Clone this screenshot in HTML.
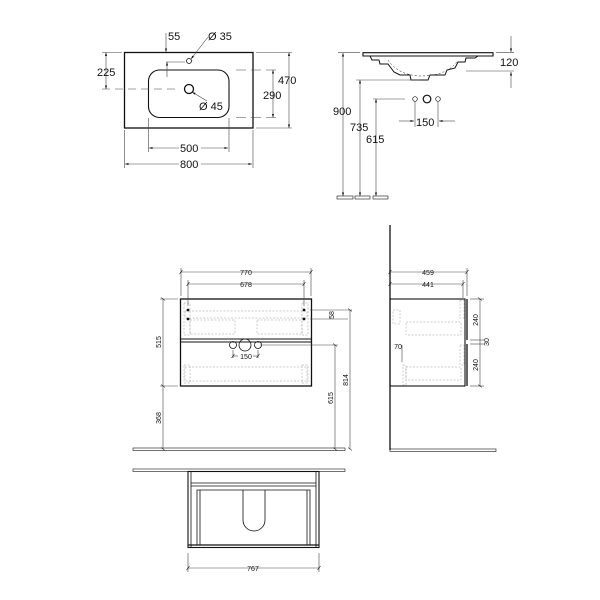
<!DOCTYPE html>
<html><head><meta charset="utf-8"><style>
html,body{margin:0;padding:0;background:#fff;width:600px;height:600px;overflow:hidden}
svg{display:block}
text{font-family:"Liberation Sans",Arial,sans-serif;fill:#111}
</style></head><body>
<svg width="600" height="600" viewBox="0 0 600 600" xmlns="http://www.w3.org/2000/svg">
<defs>
<marker id="a" viewBox="0 0 10 10" refX="10" refY="5" markerWidth="6" markerHeight="6" orient="auto-start-reverse"><path d="M0,2 L10,5 L0,8z" fill="#111"/></marker>
<marker id="t" viewBox="0 0 10 10" refX="5" refY="5" markerWidth="8" markerHeight="8" orient="auto"><path d="M2,9 L8,1" stroke="#111" stroke-width="1.2"/></marker>
</defs>
<g stroke="#111" fill="none" stroke-width="0.8">
<!-- TOP LEFT basin plan -->
<rect x="124.5" y="52.5" width="128.5" height="75.5" stroke-width="1.3"/>
<rect x="148.5" y="70" width="80.5" height="47.5" rx="11" stroke-width="1.1"/>
<circle cx="189" cy="89" r="4.5" stroke-width="1.3"/>
<circle cx="189" cy="61" r="2.5"/>
<g stroke="#444" stroke-width="0.6">
<line x1="102" y1="52.5" x2="122" y2="52.5"/><line x1="102" y1="89" x2="180" y2="89" stroke-dasharray="8,5"/>
<line x1="106" y1="52.5" x2="106" y2="89" marker-start="url(#a)" marker-end="url(#a)"/>
<line x1="256" y1="52.5" x2="292" y2="52.5"/><line x1="256" y1="128" x2="292" y2="128"/>
<line x1="289" y1="52.5" x2="289" y2="128" marker-start="url(#a)" marker-end="url(#a)"/>
<line x1="236" y1="70" x2="276" y2="70" stroke-dasharray="10,5"/><line x1="236" y1="117.5" x2="276" y2="117.5" stroke-dasharray="10,5"/>
<line x1="273" y1="70" x2="273" y2="117.5" marker-start="url(#a)" marker-end="url(#a)"/>
<line x1="148.5" y1="118" x2="148.5" y2="152"/><line x1="229" y1="118" x2="229" y2="152"/>
<line x1="149" y1="148" x2="179" y2="148" marker-start="url(#a)"/><line x1="201" y1="148" x2="228" y2="148" marker-end="url(#a)"/>
<line x1="124.5" y1="130" x2="124.5" y2="168"/><line x1="253" y1="130" x2="253" y2="168"/>
<line x1="125" y1="164" x2="179" y2="164" marker-start="url(#a)"/><line x1="201" y1="164" x2="252" y2="164" marker-end="url(#a)"/>
<line x1="166" y1="33" x2="166" y2="52" marker-end="url(#a)"/>
<line x1="166" y1="62" x2="185" y2="62"/><line x1="167" y1="62" x2="167" y2="77" marker-start="url(#a)"/>
<line x1="208" y1="37" x2="191" y2="59" marker-end="url(#a)"/>
<line x1="207" y1="101" x2="192" y2="92" marker-end="url(#a)"/>
</g>
<!-- TOP RIGHT side -->
<path d="M363,52.7 H493 V56 H363 Z" stroke-width="1.1"/>
<path d="M370,56 L372,60 L379,60 L380,64 L388,64 L394,72 L400,75 L410,75 L411,80 L428,80 L430,75 L445,75 L447,70 L455,68 L458,62 L465,62 L466,58 L475,58 L478,56" stroke-width="1"/>
<path d="M388,60 Q398,75 420,76 Q448,76 458,60" stroke-dasharray="2,2" stroke-width="0.5"/>
<g stroke="#444" stroke-width="0.6">
<line x1="338" y1="52.7" x2="360" y2="52.7"/><line x1="343" y1="53" x2="343" y2="196" marker-start="url(#a)" marker-end="url(#a)"/>
<line x1="356" y1="80" x2="420" y2="80"/><line x1="360" y1="80" x2="360" y2="196" marker-start="url(#a)" marker-end="url(#a)"/>
<line x1="373" y1="99" x2="405" y2="99"/><line x1="376" y1="99" x2="376" y2="196" marker-start="url(#a)" marker-end="url(#a)"/>
<line x1="496" y1="52.7" x2="514" y2="52.7"/><line x1="466" y1="71" x2="514" y2="71"/>
<line x1="511" y1="36" x2="511" y2="52" marker-end="url(#a)"/><line x1="511" y1="88" x2="511" y2="72" marker-end="url(#a)"/>
<line x1="415" y1="102" x2="415" y2="127"/><line x1="438" y1="102" x2="438" y2="127"/>
<line x1="399" y1="121" x2="414" y2="121" marker-end="url(#a)"/><line x1="455" y1="121" x2="439" y2="121" marker-end="url(#a)"/>
</g>
<circle cx="415" cy="99" r="2.3" stroke-width="0.7"/><circle cx="427" cy="99" r="3.8" stroke-width="1.2"/><circle cx="438" cy="99" r="2.3" stroke-width="0.7"/>
<rect x="337" y="196" width="16" height="3" stroke-width="0.6"/><rect x="355" y="196" width="15" height="3" stroke-width="0.6"/><rect x="373" y="196" width="15" height="3" stroke-width="0.6"/>

<!-- MIDDLE front -->
<rect x="180.5" y="299" width="131" height="87" stroke-width="1.3"/>
<line x1="180.5" y1="339" x2="311.5" y2="339" stroke-width="1"/><line x1="180.5" y1="342" x2="311.5" y2="342" stroke-width="1"/>
<g stroke="#999" stroke-width="0.5" stroke-dasharray="2,1.5">
<rect x="185" y="311" width="122" height="7"/><rect x="190" y="320" width="45" height="14"/><rect x="257" y="320" width="45" height="14"/>
<rect x="185" y="367" width="122" height="14"/><rect x="184" y="303" width="6" height="32"/><rect x="302" y="303" width="6" height="32"/>
<rect x="184" y="365" width="6" height="18"/><rect x="302" y="365" width="6" height="18"/>
</g>
<g fill="#111" stroke="none"><circle cx="188" cy="310" r="1.4"/><circle cx="188" cy="319" r="1.4"/><circle cx="304" cy="310" r="1.4"/><circle cx="304" cy="319" r="1.4"/></g>
<circle cx="233" cy="345" r="3.5"/><circle cx="245" cy="345" r="6"/><circle cx="258" cy="345" r="3.5"/>
<rect x="133" y="448" width="212" height="2.5" stroke-width="0.6"/>
<g stroke="#444" stroke-width="0.6">
<line x1="181" y1="268" x2="181" y2="296"/><line x1="311" y1="268" x2="311" y2="296"/><line x1="181" y1="272" x2="311" y2="272" marker-start="url(#t)" marker-end="url(#t)"/>
<line x1="188" y1="280" x2="188" y2="306"/><line x1="304" y1="280" x2="304" y2="306"/><line x1="188" y1="284" x2="304" y2="284" marker-start="url(#t)" marker-end="url(#t)"/>
<line x1="160" y1="299" x2="178" y2="299"/><line x1="160" y1="386" x2="178" y2="386"/><line x1="163" y1="299" x2="163" y2="386" marker-start="url(#t)" marker-end="url(#t)"/><line x1="163" y1="386" x2="163" y2="449" marker-end="url(#t)"/>
<line x1="310" y1="310" x2="352" y2="310"/><line x1="310" y1="319" x2="348" y2="319"/><line x1="260" y1="345" x2="338" y2="345"/>
<line x1="335" y1="345" x2="335" y2="449" marker-start="url(#t)" marker-end="url(#t)"/><line x1="350" y1="310" x2="350" y2="449" marker-start="url(#t)" marker-end="url(#t)"/>
<line x1="233" y1="350" x2="233" y2="358"/><line x1="258" y1="350" x2="258" y2="358"/>
<line x1="233" y1="356" x2="238" y2="356" marker-start="url(#t)"/><line x1="253" y1="356" x2="258" y2="356" marker-end="url(#t)"/>
</g>
<!-- side view -->
<line x1="390" y1="225" x2="390" y2="450" stroke-width="1.3"/>
<rect x="390" y="299" width="75" height="87" stroke-width="1.1"/>
<line x1="467" y1="299" x2="467" y2="340" stroke-width="1.3"/><line x1="467" y1="344" x2="467" y2="386" stroke-width="1.3"/>
<g stroke="#999" stroke-width="0.5" stroke-dasharray="2,1.5">
<rect x="393" y="310" width="7" height="14"/><rect x="406" y="322" width="55" height="13"/><rect x="406" y="367" width="55" height="13"/>
<rect x="460" y="300" width="4" height="18"/><rect x="460" y="345" width="4" height="20"/><rect x="403" y="365" width="3" height="20"/>
</g>
<rect x="390" y="449" width="106" height="2.5" stroke-width="0.6"/>
<g stroke="#444" stroke-width="0.6">
<line x1="390" y1="272" x2="467" y2="272" marker-start="url(#t)" marker-end="url(#t)"/><line x1="467" y1="268" x2="467" y2="296"/>
<line x1="390" y1="284" x2="463" y2="284" marker-start="url(#t)" marker-end="url(#t)"/><line x1="463" y1="280" x2="463" y2="298"/>
<line x1="470" y1="299" x2="484" y2="299"/><line x1="470" y1="386" x2="484" y2="386"/>
<line x1="480" y1="299" x2="480" y2="386" marker-start="url(#t)" marker-end="url(#t)"/><line x1="470" y1="340" x2="484" y2="340"/><line x1="470" y1="344" x2="484" y2="344"/>
<line x1="402" y1="345" x2="402" y2="362"/>
</g>
<!-- bottom plan -->
<rect x="133" y="469" width="212" height="2.5" stroke-width="0.6"/>
<rect x="188" y="471.5" width="131" height="76" stroke-width="1.1"/>
<line x1="191" y1="471.5" x2="191" y2="547"/><line x1="316" y1="471.5" x2="316" y2="547"/>
<line x1="191" y1="483" x2="316" y2="483"/><line x1="191" y1="486" x2="316" y2="486"/>
<path d="M197,545 V490 H310 V545" />
<line x1="200" y1="490" x2="200" y2="545"/><line x1="307" y1="490" x2="307" y2="545"/>
<path d="M243,490 V520 A11,11 0 0 0 265,520 V490"/>
<line x1="188" y1="545" x2="319" y2="545" stroke-width="1.3"/>
<g stroke="#444" stroke-width="0.6">
<line x1="188" y1="553" x2="188" y2="572"/><line x1="319" y1="553" x2="319" y2="572"/><line x1="188" y1="568" x2="319" y2="568" marker-start="url(#t)" marker-end="url(#t)"/>
</g>
</g>
<g font-size="11">
<text x="97" y="76">225</text><text x="278" y="84">470</text><text x="263" y="99">290</text>
<text x="180" y="152">500</text><text x="180" y="168">800</text>
<text x="168" y="40">55</text><text x="208" y="40">Ø 35</text><text x="199" y="110">Ø 45</text>
<text x="500" y="66">120</text><text x="333" y="115">900</text><text x="350" y="131">735</text><text x="366" y="143">615</text>
<text x="416" y="126">150</text>
</g>
<g font-size="7" text-anchor="middle">
<text x="246" y="275">770</text><text x="246" y="287">678</text>
<text x="246" y="359">150</text>
<text x="428" y="275">459</text><text x="428" y="287">441</text>
<text x="253" y="571">767</text>
<text transform="translate(161,342) rotate(-90)">515</text>
<text transform="translate(161,418) rotate(-90)">368</text>
<text transform="translate(333,398) rotate(-90)">615</text>
<text transform="translate(348,380) rotate(-90)">814</text>
<text transform="translate(334,315) rotate(-90)">58</text>
<text transform="translate(478,320) rotate(-90)">240</text>
<text transform="translate(478,365) rotate(-90)">240</text>
<text transform="translate(489,342) rotate(-90)">30</text>
<text x="398" y="349">70</text>
</g>
</svg>
</body></html>
